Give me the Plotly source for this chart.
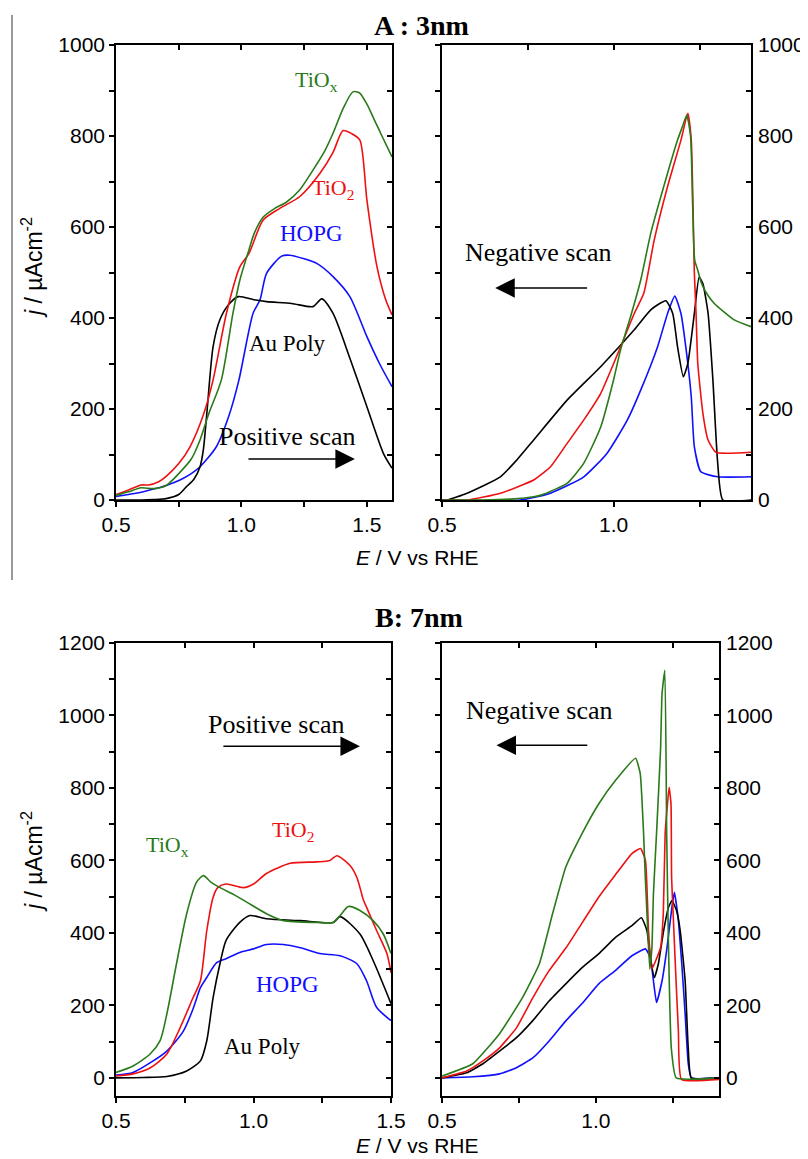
import plotly.graph_objects as go

# ---------------- DATA ----------------
# Panel A (3 nm) – positive scan (left)
A_pos_TiOx_E = [0.50,0.55,0.60,0.65,0.70,0.75,0.80,0.835,0.87,0.92,0.966,0.994,1.03,1.05,1.087,1.13,1.18,1.23,1.285,1.33,1.365,1.405,1.444,1.47,1.50,1.53,1.56,1.60]
A_pos_TiOx_j = [10,18,27,25,32,58,90,132,190,264,410,484,550,585,622,640,655,680,725,765,806,860,897,895,870,835,800,754]
A_pos_TiO2_E = [0.50,0.55,0.60,0.63,0.67,0.70,0.75,0.795,0.85,0.887,0.94,0.994,1.03,1.086,1.15,1.233,1.313,1.365,1.405,1.44,1.472,1.50,1.54,1.575,1.60]
A_pos_TiO2_j = [12,22,33,33,40,52,80,117,190,264,410,513,542,615,640,667,718,764,812,805,791,659,513,440,407]
A_pos_HOPG_E = [0.50,0.55,0.60,0.65,0.70,0.755,0.80,0.835,0.90,0.95,0.99,1.046,1.074,1.10,1.16,1.193,1.25,1.30,1.365,1.432,1.50,1.55,1.60]
A_pos_HOPG_j = [8,12,17,24,32,44,58,73,117,185,264,410,440,498,536,538,530,520,491,447,359,300,249]
A_pos_Au_E = [0.50,0.60,0.65,0.70,0.75,0.78,0.81,0.835,0.848,0.862,0.887,0.914,0.95,0.987,1.05,1.10,1.20,1.285,1.32,1.365,1.43,1.50,1.566,1.60]
A_pos_Au_j = [0,0,1,3,12,29,45,73,110,190,337,396,430,447,440,436,432,425,442,410,315,205,102,70]

# Panel A (3 nm) – negative scan (right)
A_neg_TiOx_E = [1.40,1.351,1.293,1.27,1.255,1.245,1.236,1.230,1.224,1.213,1.20,1.186,1.157,1.108,1.079,1.05,1.02,1.0,0.962,0.913,0.865,0.80,0.767,0.70,0.62,0.50]
A_neg_TiOx_j = [381,396,432,455,478,505,527,650,800,846,820,791,718,586,484,405,330,265,160,81,37,14,7,2,0,0]
A_neg_TiO2_E = [1.40,1.298,1.275,1.26,1.245,1.24,1.235,1.226,1.216,1.196,1.157,1.118,1.088,1.06,1.03,1.0,0.962,0.913,0.865,0.816,0.767,0.67,0.573,0.50]
A_neg_TiO2_j = [105,105,132,190,300,410,499,791,850,791,689,571,455,410,355,300,234,176,125,73,44,15,0,0]
A_neg_HOPG_E = [1.40,1.303,1.254,1.235,1.226,1.21,1.196,1.178,1.157,1.128,1.079,1.04,0.981,0.913,0.816,0.728,0.50]
A_neg_HOPG_j = [51,51,62,117,227,337,410,448,410,337,242,176,103,51,15,0,0]
A_neg_Au_E = [1.40,1.318,1.303,1.289,1.275,1.26,1.249,1.235,1.216,1.203,1.186,1.172,1.152,1.108,1.06,0.962,0.865,0.767,0.718,0.67,0.573,0.515,0.50]
A_neg_Au_j = [0,0,81,264,410,475,490,410,300,271,337,410,438,418,374,293,220,132,88,51,15,0,0]

# Panel B (7 nm) – positive scan (left)
B_pos_TiOx_E = [0.50,0.562,0.624,0.66,0.685,0.72,0.757,0.793,0.818,0.845,0.878,0.93,0.975,1.047,1.109,1.23,1.29,1.315,1.345,1.387,1.435,1.472,1.50]
B_pos_TiOx_j = [15,33,66,102,177,315,453,540,558,540,525,505,485,453,434,429,429,448,473,462,434,397,343]
B_pos_TiO2_E = [0.50,0.562,0.625,0.685,0.733,0.78,0.807,0.83,0.853,0.87,0.90,0.963,1.0,1.047,1.133,1.23,1.278,1.303,1.351,1.376,1.40,1.411,1.448,1.485,1.50]
B_pos_TiO2_j = [5,11,28,66,138,221,268,406,498,525,535,525,535,564,592,596,600,613,586,553,490,471,406,343,290]
B_pos_HOPG_E = [0.50,0.562,0.625,0.685,0.745,0.782,0.807,0.83,0.866,0.90,0.95,1.0,1.047,1.109,1.17,1.242,1.315,1.376,1.411,1.448,1.50]
B_pos_HOPG_j = [8,15,42,74,129,194,249,277,318,329,346,356,368,368,359,343,337,315,268,194,158]
B_pos_Au_E = [0.50,0.60,0.685,0.757,0.807,0.83,0.853,0.878,0.90,0.95,0.987,1.047,1.17,1.29,1.315,1.387,1.435,1.50]
B_pos_Au_j = [0,1,4,19,47,102,221,315,379,429,448,439,434,429,445,397,324,205]

# Panel B (7 nm) – negative scan (right)
B_neg_TiOx_E = [1.40,1.261,1.245,1.236,1.23,1.224,1.215,1.21,1.197,1.187,1.182,1.175,1.166,1.16,1.155,1.144,1.129,1.064,1.01,0.955,0.902,0.859,0.816,0.762,0.687,0.60,0.50]
B_neg_TiOx_j = [0,0,83,359,674,1125,1061,904,674,508,359,300,453,564,674,840,882,821,757,674,581,452,314,222,122,39,5]
B_neg_TiO2_E = [1.40,1.278,1.268,1.258,1.251,1.246,1.244,1.238,1.232,1.225,1.219,1.21,1.182,1.171,1.161,1.145,1.117,1.063,1.01,0.903,0.848,0.795,0.742,0.687,0.633,0.58,0.50]
B_neg_TiO2_j = [-4,-4,130,315,453,553,757,802,750,674,453,359,301,406,600,633,619,560,500,359,296,221,138,83,47,19,0]
B_neg_HOPG_E = [1.40,1.31,1.30,1.29,1.279,1.268,1.255,1.247,1.231,1.215,1.197,1.187,1.177,1.161,1.117,1.063,1.01,0.955,0.903,0.848,0.795,0.742,0.687,0.60,0.50]
B_neg_HOPG_j = [0,0,40,177,315,434,512,471,359,268,208,268,332,356,337,296,260,205,158,102,55,28,11,3,0]
B_neg_Au_E = [1.40,1.31,1.30,1.29,1.274,1.262,1.247,1.236,1.22,1.203,1.19,1.177,1.166,1.148,1.117,1.063,1.01,0.955,0.903,0.848,0.795,0.742,0.687,0.633,0.58,0.50]
B_neg_Au_j = [0,0,83,268,406,462,489,471,406,315,277,332,406,442,420,387,343,304,260,212,158,111,74,39,14,0]

# Tick values / labels
xticks_long = [0.5, 0.75, 1.0, 1.25, 1.5]
xlabels_long = ["0.5", "", "1.0", "", "1.5"]
xticks_short = [0.5, 0.75, 1.0, 1.25]
xlabels_short = ["0.5", "", "1.0", ""]
yticks_A = [0, 100, 200, 300, 400, 500, 600, 700, 800, 900, 1000]
ylabels_A = ["0", "", "200", "", "400", "", "600", "", "800", "", "1000"]
yticks_B = [0, 100, 200, 300, 400, 500, 600, 700, 800, 900, 1000, 1100, 1200]
ylabels_B = ["0", "", "200", "", "400", "", "600", "", "800", "", "1000", "", "1200"]

# ---------------- STYLE ----------------
OFF = 8                      # page body margin in the browser
W, H = 808 - OFF, 1159 - OFF
GREEN = "#2a7a1a"
RED = "#ee1111"
BLUE = "#1010ff"
BLACK = "#000000"
SANS = "Liberation Sans, Arial, sans-serif"
SERIF = "Liberation Serif, Times New Roman, serif"

def dx(p):
    return (p - OFF) / W

def dy(p):
    return 1 - (p - OFF) / H

fig = go.Figure()

series = [
    ("x", "y", 0.7, [(A_pos_HOPG_E, A_pos_HOPG_j, BLUE), (A_pos_Au_E, A_pos_Au_j, BLACK),
                     (A_pos_TiO2_E, A_pos_TiO2_j, RED), (A_pos_TiOx_E, A_pos_TiOx_j, GREEN)]),
    ("x2", "y2", 0.5, [(A_neg_HOPG_E, A_neg_HOPG_j, BLUE), (A_neg_Au_E, A_neg_Au_j, BLACK),
                       (A_neg_TiO2_E, A_neg_TiO2_j, RED), (A_neg_TiOx_E, A_neg_TiOx_j, GREEN)]),
    ("x3", "y3", 0.7, [(B_pos_HOPG_E, B_pos_HOPG_j, BLUE), (B_pos_Au_E, B_pos_Au_j, BLACK),
                       (B_pos_TiO2_E, B_pos_TiO2_j, RED), (B_pos_TiOx_E, B_pos_TiOx_j, GREEN)]),
    ("x4", "y4", 0.4, [(B_neg_HOPG_E, B_neg_HOPG_j, BLUE), (B_neg_Au_E, B_neg_Au_j, BLACK),
                       (B_neg_TiO2_E, B_neg_TiO2_j, RED), (B_neg_TiOx_E, B_neg_TiOx_j, GREEN)]),
]
for xa, ya, sm, lines in series:
    for E, j, c in lines:
        fig.add_trace(go.Scatter(x=E, y=j, mode="lines", xaxis=xa, yaxis=ya,
                                 line=dict(color=c, width=1.6, shape="spline", smoothing=sm),
                                 showlegend=False, hoverinfo="skip"))

panels = [
    (1, (116, 392), (45, 500), [0.5, 1.6], [0, 1000], xticks_long, xlabels_long, yticks_A, ylabels_A, False),
    (2, (442, 751), (45, 500), [0.5, 1.4], [0, 1000], xticks_short, xlabels_short, yticks_A, ylabels_A, True),
    (3, (116, 391), (643, 1096), [0.5, 1.5], [-50, 1200], xticks_long, xlabels_long, yticks_B, ylabels_B, False),
    (4, (442, 719), (643, 1096), [0.5, 1.4], [-50, 1200], xticks_short, xlabels_short, yticks_B, ylabels_B, True),
]

TICKFONT = dict(family=SANS, size=21, color="black")
layout = dict(width=W, height=H, margin=dict(l=0, r=0, t=0, b=0, autoexpand=False),
              paper_bgcolor="white", plot_bgcolor="white", showlegend=False)

for idx, xd, yd, xr, yr, xt, xl, yt, yl, right in panels:
    sfx = "" if idx == 1 else str(idx)
    o = idx + 4
    layout["xaxis" + sfx] = dict(domain=[dx(xd[0]), dx(xd[1])], range=xr, anchor="y" + sfx,
                                 tickmode="array", tickvals=xt, ticktext=xl,
                                 ticks="outside", ticklen=5, tickwidth=1.5, tickcolor="black",
                                 showline=True, linecolor="black", linewidth=1.5, mirror=True,
                                 showgrid=False, zeroline=False, tickfont=TICKFONT,
                                 automargin=False)
    layout["yaxis" + sfx] = dict(domain=[dy(yd[1]), dy(yd[0])], range=yr, anchor="x" + sfx,
                                 side="left", tickmode="array", tickvals=yt, ticktext=yl,
                                 ticks="outside", ticklen=5, tickwidth=1.5, tickcolor="black",
                                 showline=True, linecolor="black", linewidth=1.5, mirror=True,
                                 showgrid=False, zeroline=False, tickfont=TICKFONT,
                                 showticklabels=not right, automargin=False)
    layout["xaxis%d" % o] = dict(overlaying="x" + sfx, side="top", anchor="y" + sfx, range=xr,
                                 tickmode="array", tickvals=xt, ticks="inside", ticklen=5,
                                 tickwidth=1.5, tickcolor="black", showticklabels=False,
                                 showgrid=False, zeroline=False, showline=False, automargin=False)
    layout["yaxis%d" % o] = dict(overlaying="y" + sfx, side="right", anchor="x" + sfx, range=yr,
                                 tickmode="array", tickvals=yt, ticktext=yl, ticks="inside",
                                 ticklen=5, tickwidth=1.5, tickcolor="black",
                                 showticklabels=right, tickfont=TICKFONT, ticklabelstandoff=6,
                                 showgrid=False, zeroline=False, showline=False, automargin=False)
    fig.add_trace(go.Scatter(x=[None], y=[None], xaxis="x%d" % o, yaxis="y" + sfx,
                             showlegend=False, hoverinfo="skip"))
    fig.add_trace(go.Scatter(x=[None], y=[None], xaxis="x" + sfx, yaxis="y%d" % o,
                             showlegend=False, hoverinfo="skip"))

fig.update_layout(**layout)

ann = []
def label(text, xref, yref, x, y, color, size):
    ann.append(dict(text=text, x=x, y=y, xref=xref, yref=yref, showarrow=False,
                    font=dict(family=SERIF, size=size, color=color),
                    xanchor="center", yanchor="middle"))

def arrow(xref, yref, x_tip, x_tail, y):
    ann.append(dict(text="", x=x_tip, y=y, ax=x_tail, ay=y, xref=xref, yref=yref,
                    axref=xref, ayref=yref, showarrow=True, arrowhead=2,
                    arrowsize=2.6, arrowwidth=1.5, arrowcolor="black"))

label("TiO<sub>x</sub>", "x", "y", 1.30, 921, GREEN, 22)
label("TiO<sub>2</sub>", "x", "y", 1.365, 684, RED, 22)
label("HOPG", "x", "y", 1.281, 585, BLUE, 23)
label("Au Poly", "x", "y", 1.185, 345, BLACK, 23)
label("Positive scan", "x", "y", 1.185, 140, BLACK, 26)
arrow("x", "y", 1.452, 1.022, 90)
label("Negative scan", "x2", "y2", 0.781, 545, BLACK, 26)
arrow("x2", "y2", 0.655, 0.927, 466)
label("Positive scan", "x3", "y3", 1.085, 976, BLACK, 26)
arrow("x3", "y3", 1.387, 0.885, 915)
label("TiO<sub>x</sub>", "x3", "y3", 0.689, 639, GREEN, 22)
label("TiO<sub>2</sub>", "x3", "y3", 1.144, 680, RED, 22)
label("HOPG", "x3", "y3", 1.122, 257, BLUE, 23)
label("Au Poly", "x3", "y3", 1.031, 86, BLACK, 23)
label("Negative scan", "x4", "y4", 0.816, 1015, BLACK, 26)
arrow("x4", "y4", 0.677, 0.977, 918)

def paper_text(text, x, y, font, angle=0):
    ann.append(dict(text=text, x=dx(x), y=dy(y), xref="paper", yref="paper",
                    xanchor="center", yanchor="middle", showarrow=False,
                    textangle=angle, font=font))

paper_text("<b>A : 3nm</b>", 421, 25, dict(family=SERIF, size=28, color="black"))
paper_text("<b>B: 7nm</b>", 419, 617, dict(family=SERIF, size=28, color="black"))
for yy in (558, 1145):
    paper_text("<i>E</i> / V vs RHE", 418, yy, dict(family=SANS, size=21, color="black"))
for yy in (268, 862):
    paper_text("<i>j</i> / µAcm<sup>-2</sup>", 32, yy, dict(family=SANS, size=23, color="black"),
               angle=-90)

fig.update_layout(annotations=ann)
fig.add_shape(type="line", xref="paper", yref="paper", x0=dx(12), x1=dx(12),
              y0=dy(15), y1=dy(580), line=dict(color="#777777", width=1.5))

fig.write_html("out.html")
